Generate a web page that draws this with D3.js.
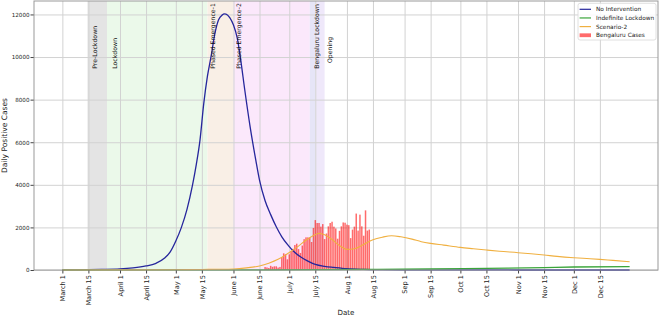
<!DOCTYPE html>
<html>
<head>
<meta charset="utf-8">
<title>Daily Positive Cases</title>
<script src="https://d3js.org/d3.v7.min.js"></script>
<style>
  body { margin: 0; background: #fff; }
  text { font-family: "DejaVu Sans", sans-serif; fill: #222; }
</style>
</head>
<body>
<div id="chart"></div>
<script>
// ---- data ----
var tickDates = ["2020-03-01", "2020-03-15", "2020-04-01", "2020-04-15", "2020-05-01", "2020-05-15",
    "2020-06-01", "2020-06-15", "2020-07-01", "2020-07-15", "2020-08-01", "2020-08-15",
    "2020-09-01", "2020-09-15", "2020-10-01", "2020-10-15", "2020-11-01", "2020-11-15",
    "2020-12-01", "2020-12-15"];
var tickLabels = ["March 1", "March 15", "April 1", "April 15", "May 1", "May 15",
    "June 1", "June 15", "July 1", "July 15", "Aug 1", "Aug 15",
    "Sep 1", "Sep 15", "Oct 1", "Oct 15", "Nov 1", "Nov 15", "Dec 1", "Dec 15"];
var yTicks = [0, 2000, 4000, 6000, 8000, 10000, 12000];

// shaded phases
var phaseStart = ["2020-03-14T12:00", "2020-03-25", "2020-05-18", "2020-06-01", "2020-07-12", "2020-07-15"];
var phaseEnd   = ["2020-03-25", "2020-05-18", "2020-06-01", "2020-07-12", "2020-07-15", "2020-07-20"];
var phaseFill  = ["#e4e4e4", "#ebf9ea", "#f9efe6", "#fbe8fb", "#e6e5f7", "#efe8fa"];

// phase annotations
var noteText  = ["Pre-Lockdown", "Lockdown", "Phased Emergence-1", "Phased Emergence-2", "Bengaluru Lockdown", "Opening"];
var noteDate  = ["2020-03-18T10:00", "2020-03-29", "2020-05-20T16:00", "2020-06-03T16:00", "2020-07-16", "2020-07-23"];
var noteValue = [9450, 9450, 9450, 9450, 9450, 9720];

// No Intervention
var noIntervention = [
  ["2020-03-01", 5], ["2020-03-08", 8], ["2020-03-15", 15], ["2020-03-22", 25], ["2020-04-01", 50],
  ["2020-04-08", 100], ["2020-04-15", 190], ["2020-04-20", 300], ["2020-04-25", 560], ["2020-04-28", 850],
  ["2020-05-01", 1360], ["2020-05-04", 2000], ["2020-05-07", 2850], ["2020-05-10", 4000], ["2020-05-12", 4950],
  ["2020-05-14", 6100], ["2020-05-16", 7800], ["2020-05-18", 9100], ["2020-05-20", 10050], ["2020-05-22", 11100],
  ["2020-05-24", 11750], ["2020-05-26", 11980], ["2020-05-27", 12030], ["2020-05-28", 12020], ["2020-05-30", 11850],
  ["2020-06-01", 11500], ["2020-06-03", 10900], ["2020-06-05", 9800], ["2020-06-07", 8500], ["2020-06-10", 6700],
  ["2020-06-13", 5160], ["2020-06-15", 4220], ["2020-06-18", 3250], ["2020-06-21", 2600], ["2020-06-24", 2030],
  ["2020-06-27", 1560], ["2020-06-30", 1200], ["2020-07-03", 900], ["2020-07-07", 620], ["2020-07-11", 420],
  ["2020-07-15", 260], ["2020-07-20", 170], ["2020-07-25", 120], ["2020-08-01", 60], ["2020-08-10", 30],
  ["2020-08-20", 15], ["2020-09-01", 8], ["2020-10-01", 3], ["2020-11-01", 1], ["2020-12-31", 0]
];

// Indefinite Lockdown
var indefiniteLockdown = [
  ["2020-03-01", 0], ["2020-05-01", 2], ["2020-06-15", 8], ["2020-07-15", 15], ["2020-08-15", 28],
  ["2020-09-15", 47], ["2020-10-15", 80], ["2020-11-15", 110], ["2020-12-01", 140], ["2020-12-31", 156]
];

// Scenario-2
var scenario2 = [
  ["2020-03-01", 0], ["2020-04-01", 5], ["2020-05-01", 15], ["2020-05-15", 25], ["2020-06-01", 50],
  ["2020-06-08", 100], ["2020-06-15", 190], ["2020-06-20", 320], ["2020-06-25", 500], ["2020-06-30", 760],
  ["2020-07-05", 1060], ["2020-07-10", 1400], ["2020-07-14", 1620], ["2020-07-17", 1720], ["2020-07-20", 1650],
  ["2020-07-24", 1430], ["2020-07-28", 1150], ["2020-08-01", 970], ["2020-08-05", 1000], ["2020-08-10", 1200],
  ["2020-08-15", 1420], ["2020-08-20", 1540], ["2020-08-25", 1610], ["2020-08-30", 1560], ["2020-09-05", 1450],
  ["2020-09-10", 1330], ["2020-09-15", 1250], ["2020-09-22", 1170], ["2020-10-01", 1064], ["2020-10-08", 1000],
  ["2020-10-15", 938], ["2020-10-22", 880], ["2020-11-01", 813], ["2020-11-08", 760], ["2020-11-15", 703],
  ["2020-11-22", 640], ["2020-12-01", 578], ["2020-12-08", 540], ["2020-12-15", 500], ["2020-12-22", 450],
  ["2020-12-31", 390]
];

// Bengaluru Cases, daily from June 18
var casesStart = "2020-06-18";
var bengaluruCases = [140, 120, 95, 196, 150, 173, 173, 113, 144, 596, 783, 738, 503,
  735, 889, 994, 1172, 1235, 981, 800, 1148, 1447, 1533, 1533, 1525, 1315, 1975, 2344, 2207,
  2208, 2036, 2156, 1452, 1714, 2050, 2207, 2267, 2036, 1950, 1470, 1839, 2050, 2233, 2220,
  2130, 2105, 1497, 1898, 2036, 2650, 1850, 2600, 2050, 1610, 2800, 1850, 1900];

var legendNames = ["No Intervention", "Indefinite Lockdown", "Scenario-2", "Bengaluru Cases"];
var legendColors = ["#26269c", "#3aa53a", "#f0b040", "#ff6b6b"];

// ---- layout ----
var margin = { top: 1, right: 2, bottom: 48, left: 34 },
    width = 660 - margin.left - margin.right,
    height = 318 - margin.top - margin.bottom;

var parse = function (s) { return new Date(s); };
var dayMs = 864e5;

var svg = d3.select("#chart").append("svg")
    .attr("width", 660)
    .attr("height", 318)
    .append("g")
    .attr("transform", "translate(" + margin.left + "," + margin.top + ")");

// x domain: data extent padded 5% like matplotlib
var first = parse("2020-03-01"), last = parse("2020-12-31");
var pad = (last - first) * 0.05;
var x = d3.scaleTime()
    .domain([new Date(+first - pad), new Date(+last + pad)])
    .range([0, width]);
var y = d3.scaleLinear()
    .domain([0, d3.max(noIntervention, function (d) { return d[1]; }) * 1.05])
    .range([height, 0]);

// phase spans
svg.selectAll(".phase")
    .data(phaseStart)
    .enter().append("rect")
    .attr("x", function (d) { return x(parse(d)); })
    .attr("y", 0)
    .attr("width", function (d, i) { return x(parse(phaseEnd[i])) - x(parse(d)); })
    .attr("height", height)
    .attr("fill", function (d, i) { return phaseFill[i]; });

// grid
svg.append("g")
    .attr("transform", "translate(0," + height + ")")
    .call(d3.axisBottom(x).tickValues(tickDates.map(parse)).tickSize(-height).tickFormat(""))
    .call(function (g) {
        g.select(".domain").remove();
        g.selectAll("line").attr("stroke", "#d2d2d2").attr("stroke-width", 1);
    });
svg.append("g")
    .call(d3.axisLeft(y).tickValues(yTicks).tickSize(-width).tickFormat(""))
    .call(function (g) {
        g.select(".domain").remove();
        g.selectAll("line").attr("stroke", "#d2d2d2").attr("stroke-width", 1);
    });

// bars
var barW = x(new Date(+first + dayMs * 0.8)) - x(first);
svg.selectAll(".bar")
    .data(bengaluruCases)
    .enter().append("rect")
    .attr("x", function (d, i) { return x(new Date(+parse(casesStart) + i * dayMs)) - barW / 2; })
    .attr("y", function (d) { return y(d); })
    .attr("width", barW)
    .attr("height", function (d) { return height - y(d); })
    .attr("fill", "#ff0000")
    .attr("fill-opacity", 0.58);

// lines
var line = d3.line()
    .x(function (d) { return x(parse(d[0])); })
    .y(function (d) { return y(d[1]); })
    .curve(d3.curveMonotoneX);

[[noIntervention, legendColors[0], 1.3], [indefiniteLockdown, legendColors[1], 1.3], [scenario2, legendColors[2], 1.1]]
    .forEach(function (s) {
        svg.append("path")
            .datum(s[0])
            .attr("d", line)
            .attr("fill", "none")
            .attr("stroke", s[1])
            .attr("stroke-width", s[2]);
    });

// phase notes
svg.selectAll(".note")
    .data(noteText)
    .enter().append("text")
    .attr("transform", function (d, i) {
        return "translate(" + x(parse(noteDate[i])) + "," + y(noteValue[i]) + ") rotate(-90)";
    })
    .attr("dy", "0.35em")
    .style("font-size", "6.2px")
    .style("fill", "#111")
    .text(function (d) { return d; });

// x axis
var xAxis = svg.append("g")
    .attr("transform", "translate(0," + height + ")")
    .call(d3.axisBottom(x).tickValues(tickDates.map(parse))
        .tickFormat(function (d, i) { return tickLabels[i]; })
        .tickSize(3.5).tickSizeOuter(0));
xAxis.select(".domain").remove();
xAxis.selectAll("line").attr("stroke", "#444");
xAxis.selectAll("text")
    .attr("transform", "rotate(-90)")
    .attr("x", -5)
    .attr("y", 0)
    .attr("dy", "0.35em")
    .attr("text-anchor", "end")
    .style("font-size", "6.6px")
    .style("font-family", "DejaVu Sans");

// y axis
var yAxis = svg.append("g")
    .call(d3.axisLeft(y).tickValues(yTicks).tickFormat(d3.format("d")).tickSize(3.5).tickSizeOuter(0));
yAxis.select(".domain").remove();
yAxis.selectAll("line").attr("stroke", "#444");
yAxis.selectAll("text")
    .attr("x", -4.5)
    .style("font-size", "5.6px")
    .style("font-family", "DejaVu Sans");

// frame
svg.append("rect")
    .attr("x", 0).attr("y", 0)
    .attr("width", width).attr("height", height)
    .attr("fill", "none")
    .attr("stroke", "#999")
    .attr("stroke-width", 1);

// axis titles
svg.append("text")
    .attr("transform", "translate(" + (4.5 - margin.left) + "," + (height / 2) + ") rotate(-90)")
    .attr("text-anchor", "middle")
    .attr("dy", "0.35em")
    .style("font-size", "7.5px")
    .text("Daily Positive Cases");
svg.append("text")
    .attr("x", width / 2)
    .attr("y", height + 45)
    .attr("text-anchor", "middle")
    .style("font-size", "7.1px")
    .text("Date");

// legend
var lg = svg.append("g").attr("transform", "translate(" + (width - 80) + ",2.3)");
lg.append("rect")
    .attr("width", 78).attr("height", 36.7)
    .attr("rx", 2)
    .attr("fill", "#fff").attr("fill-opacity", 0.85)
    .attr("stroke", "#d8d8d8").attr("stroke-width", 0.8);
legendNames.forEach(function (name, i) {
    var cy = 6 + i * 8.65;
    if (i < 3) {
        lg.append("line")
            .attr("x1", 1.6).attr("x2", 13).attr("y1", cy).attr("y2", cy)
            .attr("stroke", legendColors[i]).attr("stroke-width", 1.2);
    } else {
        lg.append("rect")
            .attr("x", 1.6).attr("y", cy - 1.9).attr("width", 11.4).attr("height", 3.8)
            .attr("fill", "#ff0000").attr("fill-opacity", 0.58);
    }
    lg.append("text")
        .attr("x", 18).attr("y", cy)
        .attr("dy", "0.35em")
        .style("font-size", "5.8px")
        .text(name);
});
</script>
</body>
</html>
